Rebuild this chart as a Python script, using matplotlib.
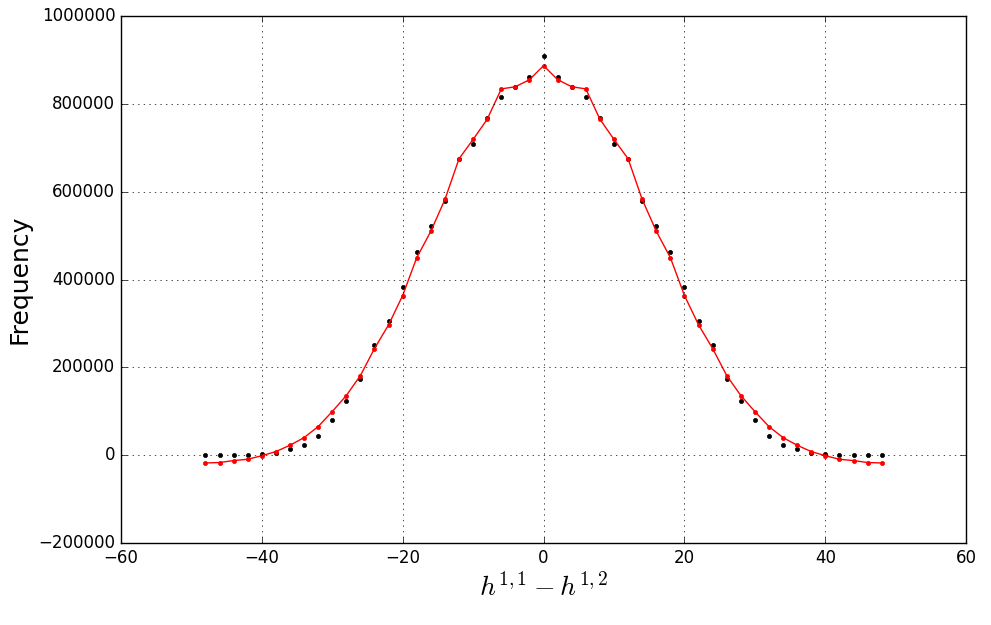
import numpy as np
import matplotlib
matplotlib.use("Agg")
import matplotlib.pyplot as plt

plt.style.use("classic")
plt.rcParams["mathtext.fontset"] = "cm"

# x values: h11 - h12
x = np.arange(-48, 49, 2)

# observed frequencies (left half, symmetric)
obs_left = [500, 500, 500, 500, 3800, 5300, 14400, 24300, 44800, 81200,
            123800, 173900, 251000, 306700, 382000, 463000, 522000, 578000,
            675000, 709000, 768000, 816000, 839000, 862000]
obs_mid = 909500
obs = np.array(obs_left + [obs_mid] + obs_left[::-1])

# fitted values (left half, symmetric)
fit_left = [-17500, -16500, -12100, -9100, -1000, 8400, 22800, 40200, 65300,
            99500, 136000, 181500, 243000, 297000, 363700, 450000, 510000,
            582500, 675000, 719000, 765000, 834000, 839000, 855000]
fit_mid = 887000
fit = np.array(fit_left + [fit_mid] + fit_left[::-1])

fig = plt.figure(figsize=(9.91, 6.25), dpi=100, facecolor="white")
ax = fig.add_axes([0.122, 0.131, 0.853, 0.8434])

ax.plot(x, obs, "k.", markersize=6)
ax.plot(x, fit, "r.-", markersize=6, linewidth=1)

ax.set_xlim(-60, 60)
ax.set_ylim(-200000, 1000000)
ax.grid(True)
ax.set_xlabel("$h^{1,1} - h^{1,2}$", fontsize=20)
ax.set_ylabel("Frequency", fontsize=18)
ax.tick_params(labelsize=12)

fig.savefig("out.png", dpi=100, facecolor="white")
